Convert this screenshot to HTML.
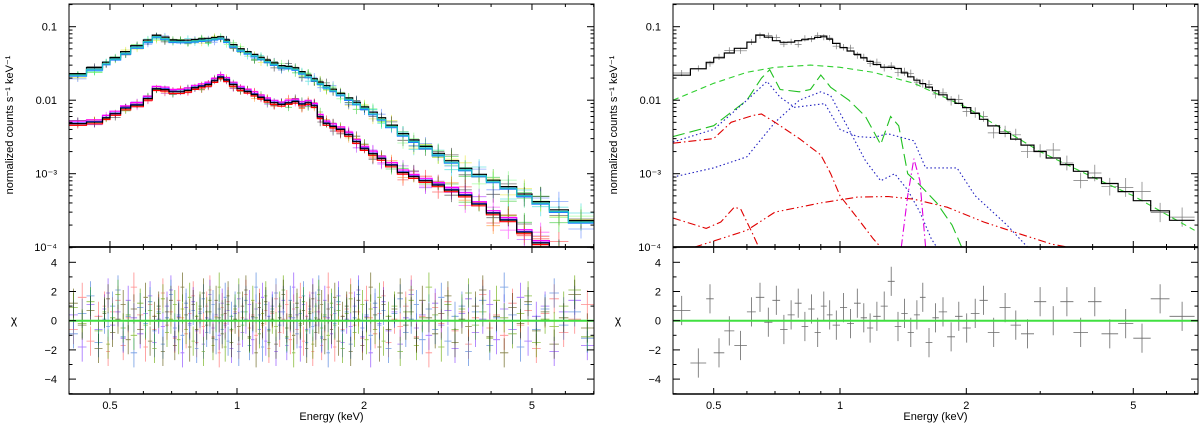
<!DOCTYPE html>
<html><head><meta charset="utf-8">
<style>
html,body{margin:0;padding:0;background:#fff;}
svg{display:block;font-family:"Liberation Sans",sans-serif;}
</style></head>
<body>
<svg id="c" width="1200" height="423" viewBox="0 0 1200 423"></svg>
<script>
// ---- data ----
const upperE=[0.4,0.45,0.5,0.55,0.6,0.65,0.7,0.75,0.8,0.85,0.92,1.0,1.1,1.2,1.3,1.35,1.45,1.6,1.8,2.0,2.2,2.5,3.0,3.5,4.0,4.5,5.0,6.0,7.0];
const upperV=[0.02,0.025,0.033,0.045,0.058,0.075,0.063,0.062,0.064,0.066,0.07,0.05,0.04,0.032,0.027,0.028,0.022,0.016,0.011,0.0078,0.0055,0.0032,0.0018,0.0011,0.0008,0.0006,0.00045,0.00028,0.00018];
const lowerE=[0.4,0.45,0.5,0.55,0.6,0.65,0.7,0.75,0.8,0.85,0.92,1.0,1.1,1.2,1.3,1.35,1.45,1.5,1.6,1.8,2.0,2.2,2.5,3.0,3.5,4.0,4.5,5.0,5.5,7.0];
const lowerV=[0.0048,0.0048,0.006,0.008,0.009,0.015,0.013,0.013,0.015,0.016,0.021,0.015,0.012,0.0095,0.0085,0.01,0.0085,0.01,0.005,0.0038,0.0022,0.0016,0.001,0.0007,0.0005,0.0003,0.00022,0.00013,0.0001,0.00006];
const totE=[0.4,0.45,0.5,0.55,0.6,0.65,0.7,0.75,0.8,0.85,0.92,1.0,1.1,1.2,1.3,1.35,1.45,1.6,1.8,2.0,2.2,2.5,3,3.5,4,4.5,5,6,7];
const totV=[0.02,0.025,0.035,0.045,0.055,0.08,0.065,0.06,0.065,0.068,0.075,0.055,0.042,0.032,0.027,0.029,0.022,0.016,0.011,0.008,0.0055,0.0034,0.002,0.0013,0.0009,0.0007,0.0005,0.00028,0.0002];
const cGreenBroadE=[0.4,0.5,0.6,0.7,0.85,1.0,1.2,1.5,2,3,4,5,7];
const cGreenBroadV=[0.01,0.017,0.024,0.028,0.03,0.028,0.024,0.017,0.008,0.002,0.0009,0.0005,0.00017];
const cGreenLineE=[0.4,0.5,0.6,0.65,0.68,0.72,0.8,0.85,0.9,0.95,1.05,1.15,1.25,1.32,1.38,1.45,1.55,1.7,1.85,1.95];
const cGreenLineV=[0.0032,0.0045,0.01,0.02,0.026,0.014,0.013,0.014,0.022,0.015,0.01,0.006,0.0025,0.006,0.0045,0.001,0.0007,0.0004,0.0002,0.0001];
const cBlue1E=[0.4,0.5,0.6,0.67,0.72,0.78,0.85,0.92,1.0,1.1,1.2,1.3,1.5,1.6,1.8,1.9,2.1,2.5,2.8];
const cBlue1V=[0.0027,0.004,0.01,0.018,0.011,0.008,0.0085,0.009,0.004,0.0032,0.0031,0.0035,0.0028,0.0012,0.0012,0.0012,0.0005,0.0002,0.0001];
const cBlue2E=[0.4,0.5,0.6,0.7,0.8,0.9,0.95,1.05,1.15,1.25,1.35,1.45,1.55,1.65,1.7];
const cBlue2V=[0.0009,0.0012,0.0017,0.005,0.01,0.013,0.0115,0.004,0.0015,0.0008,0.001,0.0006,0.0003,0.00013,0.0001];
const cRed1E=[0.4,0.5,0.55,0.62,0.65,0.7,0.8,0.9,0.95,1.0,1.1,1.2,1.25];
const cRed1V=[0.0026,0.003,0.005,0.0062,0.0065,0.005,0.003,0.0018,0.001,0.0005,0.00025,0.00013,0.0001];
const cRed2E=[0.45,0.6,0.7,0.9,1.1,1.3,1.5,1.8,2.2,2.7,3.2,3.5];
const cRed2V=[0.0001,0.00017,0.0003,0.0004,0.00048,0.00049,0.00045,0.00035,0.00022,0.00015,0.00011,0.0001];
const cRed3E=[0.4,0.48,0.52,0.56,0.58,0.62,0.64];
const cRed3V=[0.00025,0.00018,0.00022,0.00035,0.00033,0.00015,0.0001];
const cMagE=[1.4,1.45,1.5,1.55,1.6];
const cMagV=[0.0001,0.0005,0.0016,0.0008,0.0001];
const binEdges=[0.4,0.44,0.48,0.5,0.53,0.56,0.6,0.63,0.66,0.69,0.72,0.75,0.78,0.81,0.84,0.87,0.9,0.93,0.96,1.0,1.04,1.08,1.12,1.16,1.2,1.25,1.3,1.35,1.4,1.45,1.5,1.55,1.6,1.66,1.72,1.8,1.88,1.96,2.05,2.15,2.25,2.4,2.55,2.7,2.9,3.1,3.35,3.6,3.9,4.2,4.6,5.0,5.5,6.1,7.0];
const chiRight=[0.7,-2.9,1.5,-2.2,-0.7,-1.7,0.6,1.6,-0.1,1.4,-0.6,0.4,1.2,-0.4,0.8,-0.8,1.0,0.4,-0.3,0.9,-0.2,1.2,0.2,-0.5,0.3,1.0,2.7,-0.4,0.5,-0.8,0.4,1.6,-1.5,0.2,0.6,-1.1,0.3,-0.5,0.5,1.4,-0.8,0.9,-0.3,-0.9,1.3,0.0,1.3,-0.8,1.3,-0.9,-0.2,-1.2,1.5,0.3,-2.6];
const chiLeft=[0.4,-1.8,1.1,-0.6,0.8,1.9,-0.3,0.6,-1.2,1.4,0.2,-0.9,0.5,1.7,-1.5,0.1,-0.4,1.0,2.1,-1.1,0.3,-2.2,0.9,-0.2,1.3,-0.7,0.6,-1.6,0.2,1.8,-0.5,0.4,-1.0,1.2,-0.3,0.7,-1.9,0.5,1.5,-0.8,0.1,1.1,-1.3,0.8,-0.6,1.6,-1.4,0.3,1.0,-2.1,0.6,1.4,-1.7,0.2,2.3];
const tickMajor=[0.5,1,2,5];
const tickMajorLbl=["0.5","1","2","5"];
const tickMinor=[0.4,0.6,0.7,0.8,0.9,3,4,6,7];
const yDecades=[0.1,0.01,0.001,0.0001];
const yDecLbl=["0.1","0.01","10⁻³","10⁻⁴"];
const chiTicks=[4,2,0,-2,-4];
const chiLbl=["4","2","0","−2","−4"];

// ---- geometry ----
const svg=document.getElementById('c');
const NS='http://www.w3.org/2000/svg';
const P=[{x0:69,x1:594,c:237,s:422},{x0:673,x1:1198,c:840,s:419.6}];
const yT=26.7,yS=73.5,TOPY=4,MIDY=247,BOTY=394,c0=320.7,cS=14.6;
function X(p,E){return P[p].c+P[p].s*Math.log10(E);}
function Y(v){return yT-yS*(Math.log10(v)+1);}
function YC(c){return c0-cS*c;}
function interp(Es,Vs,E){
  if(E<=Es[0])return Vs[0];
  for(let i=1;i<Es.length;i++){if(E<=Es[i]){const t=(Math.log(E)-Math.log(Es[i-1]))/(Math.log(Es[i])-Math.log(Es[i-1]));return Math.exp(Math.log(Vs[i-1])*(1-t)+Math.log(Vs[i])*t);}}
  return Vs[Vs.length-1];
}
function mk(tag,at,parent){const e=document.createElementNS(NS,tag);for(const k in at)e.setAttribute(k,at[k]);(parent||svg).appendChild(e);return e;}
function grp(name){const g=mk('g',{});return g;}
const defs=mk('defs',{});
[0,1].forEach(p=>{
  const cp=mk('clipPath',{id:'cu'+p},defs);mk('rect',{x:P[p].x0,y:TOPY,width:P[p].x1-P[p].x0,height:MIDY-TOPY},cp);
  const cl=mk('clipPath',{id:'cl'+p},defs);mk('rect',{x:P[p].x0,y:MIDY,width:P[p].x1-P[p].x0,height:BOTY-MIDY},cl);
});
function stepModel(p,Es,Vs,color,name,scale){
  let d='';
  for(let i=0;i<binEdges.length-1;i++){
    const a=binEdges[i],b=binEdges[i+1],v=interp(Es,Vs,Math.sqrt(a*b))*(scale||1);
    const y=Y(v);
    d+=(i===0?'M':'L')+X(p,a).toFixed(1)+','+y.toFixed(1)+'L'+X(p,b).toFixed(1)+','+y.toFixed(1);
  }
  const e=mk('path',{d:d,fill:'none',stroke:color,'stroke-width':1.2,'clip-path':'url(#cu'+p+')'});
  
  
}
function curve(p,Es,Vs,color,dash,name){
  let d='';
  for(let i=0;i<Es.length;i++)d+=(i?'L':'M')+X(p,Es[i]).toFixed(1)+','+Y(Vs[i]).toFixed(1);
  const e=mk('path',{d:d,fill:'none',stroke:color,'stroke-width':1.1,'stroke-dasharray':dash,'clip-path':'url(#cu'+p+')'});
  
  
}
function dataCrosses(p,Es,Vs,color,off,name,op,w){
  const g=grp(name);
  for(let i=0;i<binEdges.length-1;i++){
    const a=binEdges[i],b=binEdges[i+1],c=Math.sqrt(a*b);
    const chi=chiLeft[(i+off)%chiLeft.length];
    const m=interp(Es,Vs,c);
    const err=0.1+0.25*Math.min(1,Math.max(0,(c-0.9)/4));
    const v=m*(1+chi*err*0.5);
    const ya=Y(v*(1+err)),yb=Y(v/(1+err));
    mk('path',{d:'M'+X(p,a).toFixed(1)+','+Y(v).toFixed(1)+'H'+X(p,b).toFixed(1)+'M'+X(p,c).toFixed(1)+','+ya.toFixed(1)+'V'+yb.toFixed(1),stroke:color,'stroke-width':w||0.8,opacity:op,fill:'none','clip-path':'url(#cu'+p+')'},g);
  }
}
function chiCrosses(p,arr,color,off,name,op,sub){
  const g=grp(name);
  const n=binEdges.length-1;
  for(let i=0;i<n;i++){
    for(let k=0;k<sub;k++){
      const la=Math.log(binEdges[i]),lb=Math.log(binEdges[i+1]);
      const a=Math.exp(la+(lb-la)*k/sub),b=Math.exp(la+(lb-la)*(k+1)/sub);
      const c=Math.sqrt(a*b);
      const chi=arr[(i*sub+k+off)%arr.length];
      mk('path',{d:'M'+X(p,a).toFixed(1)+','+YC(chi).toFixed(1)+'H'+X(p,b).toFixed(1)+'M'+X(p,c).toFixed(1)+','+YC(chi+1).toFixed(1)+'V'+YC(chi-1).toFixed(1),stroke:color,'stroke-width':0.8,opacity:op,fill:'none','clip-path':'url(#cl'+p+')'},g);
    }
  }
}

// ---- left panel ----
const leftUpCols=['#00c000','#00d0d0','#e0e000','#3060ff','#000000','#60ff60'];
const leftLoCols=['#ff00ff','#ff0000','#a000ff','#000000','#00c000','#ff8000'];
leftUpCols.forEach((c,i)=>dataCrosses(0,upperE,upperV,c,i*7,'upper-data-'+i,0.55));
leftLoCols.forEach((c,i)=>dataCrosses(0,lowerE,lowerV,c,i*5+3,'lower-data-'+i,0.55));
stepModel(0,upperE,upperV,'#000','upper-model-black',1.05);
stepModel(0,upperE,upperV,'#2080ff','upper-model-blue',0.97);
stepModel(0,upperE,upperV,'#20c0c0','upper-model-cyan',1.0);
stepModel(0,lowerE,lowerV,'#ff00ff','lower-model-magenta',1.08);
stepModel(0,lowerE,lowerV,'#ff0000','lower-model-red',0.95);
stepModel(0,lowerE,lowerV,'#3030ff','lower-model-blue',1.02);
stepModel(0,lowerE,lowerV,'#000','lower-model-black',1.0);
const chiCols=['#ff00ff','#a000ff','#ff8000','#e0d000','#ff0000','#3060ff','#00c0c0','#00c000','#000'];
chiCols.forEach((c,i)=>chiCrosses(0,chiLeft,c,i*11,'residual-'+i,0.45,2));

// ---- right panel ----
dataCrosses(1,totE,totV,'#555',9,'right-data',0.8,0.7);
curve(1,cGreenBroadE,cGreenBroadV,'#30d030','6,4','green-continuum');
curve(1,cGreenLineE,cGreenLineV,'#20c020','12,5','green-line-component');
curve(1,cBlue1E,cBlue1V,'#2020c0','1.5,2.5','blue-dotted-1');
curve(1,cBlue2E,cBlue2V,'#2020c0','1.5,2.5','blue-dotted-2');
curve(1,cRed1E,cRed1V,'#e00000','8,3,1.5,3','red-dashdot-1');
curve(1,cRed2E,cRed2V,'#e00000','8,3,1.5,3,1.5,3','red-dashdot-2');
curve(1,cRed3E,cRed3V,'#e00000','8,3,1.5,3','red-dashdot-3');
curve(1,cMagE,cMagV,'#e000e0','8,3,1.5,3','magenta-line');
stepModel(1,totE,totV,'#000','total-model',1);
chiCrosses(1,chiRight,'#444',0,'right-residuals',0.8,1);

// ---- axes ----
[0,1].forEach(p=>{
  const g=grp(p?'right-axes':'left-axes');
  const x0=P[p].x0,x1=P[p].x1;
  mk('line',{x1:X(p,0.4),x2:x1,y1:YC(0),y2:YC(0),stroke:'#40e040','stroke-width':2},g);
  mk('rect',{x:x0,y:TOPY,width:x1-x0,height:BOTY-TOPY,fill:'none',stroke:'#000','stroke-width':1},g);
  mk('line',{x1:x0,x2:x1,y1:MIDY,y2:MIDY,stroke:'#000','stroke-width':1.8},g);
  mk('line',{x1:x0,x2:x1,y1:BOTY,y2:BOTY,stroke:'#000','stroke-width':1.5},g);
  const allT=tickMajor.map(v=>[v,6]).concat(tickMinor.map(v=>[v,3]));
  allT.forEach(([v,l])=>{const x=X(p,v);
    mk('line',{x1:x,x2:x,y1:TOPY,y2:TOPY+l,stroke:'#000'},g);
    mk('line',{x1:x,x2:x,y1:MIDY-l,y2:MIDY+l,stroke:'#000'},g);
    mk('line',{x1:x,x2:x,y1:BOTY,y2:BOTY-l,stroke:'#000'},g);});
  tickMajor.forEach((v,i)=>{const t=mk('text',{x:X(p,v),y:409,'font-size':11,'text-anchor':'middle'},g);t.textContent=tickMajorLbl[i];});
  yDecades.forEach((v,i)=>{const y=Y(v);mk('line',{x1:x0,x2:x0+7,y1:y,y2:y,stroke:'#000'},g);mk('line',{x1:x1,x2:x1-7,y1:y,y2:y,stroke:'#000'},g);
    for(let m=2;m<10;m++){const ym=Y(v*m);if(ym>TOPY&&ym<MIDY){mk('line',{x1:x0,x2:x0+3.5,y1:ym,y2:ym,stroke:'#000'},g);mk('line',{x1:x1,x2:x1-3.5,y1:ym,y2:ym,stroke:'#000'},g);}}
    const t=mk('text',{x:x0-12,y:y+4,'font-size':11,'text-anchor':'end'},g);t.textContent=yDecLbl[i];});
  chiTicks.forEach((c,i)=>{const y=YC(c);mk('line',{x1:x0,x2:x0+7,y1:y,y2:y,stroke:'#000'},g);mk('line',{x1:x1,x2:x1-7,y1:y,y2:y,stroke:'#000'},g);
    const t=mk('text',{x:x0-12,y:y+4,'font-size':11,'text-anchor':'end'},g);t.textContent=chiLbl[i];});
  for(let c=-5;c<=5;c++){if(c%2){const y=YC(c);if(y>MIDY&&y<BOTY){mk('line',{x1:x0,x2:x0+3.5,y1:y,y2:y,stroke:'#000'},g);mk('line',{x1:x1,x2:x1-3.5,y1:y,y2:y,stroke:'#000'},g);}}}
  const xl=mk('text',{x:(x0+x1)/2,y:420,'font-size':11,'text-anchor':'middle'},g);xl.textContent='Energy (keV)';
  
  
  const yl=mk('text',{x:0,y:0,'font-size':11,'text-anchor':'middle',transform:'translate('+(x0-56)+',125) rotate(-90)'},g);yl.textContent='normalized counts s⁻¹ keV⁻¹';
  
  
  const cl=mk('text',{x:x0-55,y:324,'font-size':12,'text-anchor':'middle'},g);cl.textContent='χ';
  
  
});
</script>
</body></html>
